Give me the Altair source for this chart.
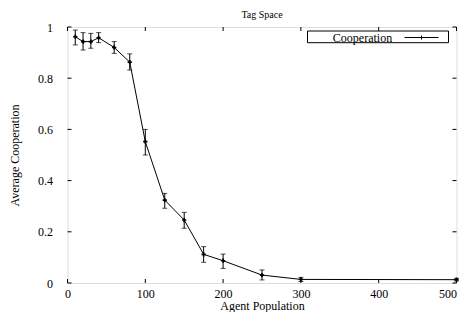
import altair as alt
import pandas as pd

population = [10, 20, 30, 40, 60, 80, 100, 125, 150, 175, 200, 250, 300, 500]
cooperation = [0.962, 0.943, 0.943, 0.958, 0.920, 0.863, 0.552, 0.324, 0.246, 0.112, 0.087, 0.031, 0.014, 0.013]
coop_low = [0.930, 0.910, 0.917, 0.939, 0.897, 0.832, 0.500, 0.292, 0.214, 0.081, 0.057, 0.012, 0.006, 0.008]
coop_high = [0.988, 0.978, 0.975, 0.978, 0.943, 0.895, 0.600, 0.350, 0.276, 0.142, 0.113, 0.051, 0.022, 0.018]
x_ticks = [0, 100, 200, 300, 400, 500]
y_ticks = [0, 0.2, 0.4, 0.6, 0.8, 1.0]
chart_title = ["Tag Space"]

W, H = 389, 256
FONT = "Liberation Serif"
YTITLE = "Average Cooperation"
XTITLE = "Agent Population"

df = pd.DataFrame({"x": population, "y": cooperation, "lo": coop_low, "hi": coop_high})
xt = pd.DataFrame({"t": x_ticks})
yt = pd.DataFrame({"t": y_ticks})
one = pd.DataFrame({"label": ["Cooperation"]})
ttl = pd.DataFrame({"label": chart_title})

xscale = alt.Scale(domain=[0, 500], nice=False, zero=False)
yscale = alt.Scale(domain=[0, 1], nice=False)

xaxis = alt.Axis(values=x_ticks, tickSize=0, labelPadding=5, grid=False, domain=False,
                 labelFont=FONT, labelFontSize=12, labelColor="black", title=XTITLE,
                 titleFont=FONT, titleFontSize=12, titleFontWeight="normal", titleColor="black",
                 titleY=26, titleBaseline="alphabetic", labelFlush=False,
                 labelAlign={"condition": {"test": "datum.value == 500", "value": "right"}, "value": "center"})
yaxis = alt.Axis(values=y_ticks, tickSize=0, labelPadding=15, grid=False, domain=False,
                 labelFont=FONT, labelFontSize=12, labelColor="black", title=YTITLE,
                 titleFont=FONT, titleFontSize=12, titleFontWeight="normal", titleColor="black",
                 titlePadding=16, labelFlush=False,
                 labelExpr="datum.value == 0 ? '0' : datum.value == 1 ? '1' : format(datum.value, '.1f')")

line = alt.Chart(df).mark_line(color="black", strokeWidth=1).encode(
    x=alt.X("x:Q", scale=xscale, axis=xaxis, title=XTITLE),
    y=alt.Y("y:Q", scale=yscale, axis=yaxis, title=YTITLE),
)
pts = alt.Chart(df).mark_point(shape="cross", filled=True, color="black", size=18, opacity=1).encode(
    x=alt.X("x:Q", scale=xscale, title=XTITLE), y=alt.Y("y:Q", scale=yscale, title=YTITLE)
)
err = alt.Chart(df).mark_errorbar(ticks={"size": 5, "color": "black", "strokeWidth": 1}, color="black", thickness=1).encode(
    x=alt.X("x:Q", scale=xscale, title=XTITLE), y=alt.Y("lo:Q", scale=yscale, title=YTITLE), y2="hi:Q"
)

tb = alt.Chart(xt).mark_rule(color="black", strokeWidth=1).encode(
    x=alt.X("t:Q", scale=xscale, title=XTITLE), y=alt.value(H), y2=alt.value(H - 4))
tt = alt.Chart(xt).mark_rule(color="black", strokeWidth=1).encode(
    x=alt.X("t:Q", scale=xscale, title=XTITLE), y=alt.value(0), y2=alt.value(4))
tl = alt.Chart(yt).mark_rule(color="black", strokeWidth=1).encode(
    y=alt.Y("t:Q", scale=yscale, title=YTITLE), x=alt.value(0), x2=alt.value(4))
tr = alt.Chart(yt).mark_rule(color="black", strokeWidth=1).encode(
    y=alt.Y("t:Q", scale=yscale, title=YTITLE), x=alt.value(W), x2=alt.value(W - 4))

leg_box = alt.Chart(one).mark_rect(fill="white", stroke="black", strokeWidth=1).encode(
    x=alt.value(240), x2=alt.value(381), y=alt.value(4), y2=alt.value(15.7))
leg_text = alt.Chart(one).mark_text(font=FONT, fontSize=12, color="black", baseline="middle", align="center").encode(
    x=alt.value(295), y=alt.value(10.5), text="label:N")
leg_line = alt.Chart(one).mark_rule(color="black", strokeWidth=1).encode(
    x=alt.value(337), x2=alt.value(371), y=alt.value(10.5))
leg_tick = alt.Chart(one).mark_rule(color="black", strokeWidth=1).encode(
    x=alt.value(354), y=alt.value(8.5), y2=alt.value(12.5))
title_mark = alt.Chart(ttl).mark_text(font=FONT, fontSize=10, color="black", baseline="alphabetic", align="center").encode(
    x=alt.value(W / 2), y=alt.value(-9), text="label:N")

chart = alt.layer(line, err, pts, tb, tt, tl, tr, leg_box, leg_text, leg_line, leg_tick, title_mark).properties(
    width=W, height=H,
    autosize=alt.AutoSizeParams(type="none"),
    padding={"left": 59.5, "top": 19, "right": 2.5, "bottom": 29},
).configure_view(stroke="black", strokeWidth=1.2).configure(background="white")

chart.save("out.html", embed_options={"renderer": "svg", "actions": False})
